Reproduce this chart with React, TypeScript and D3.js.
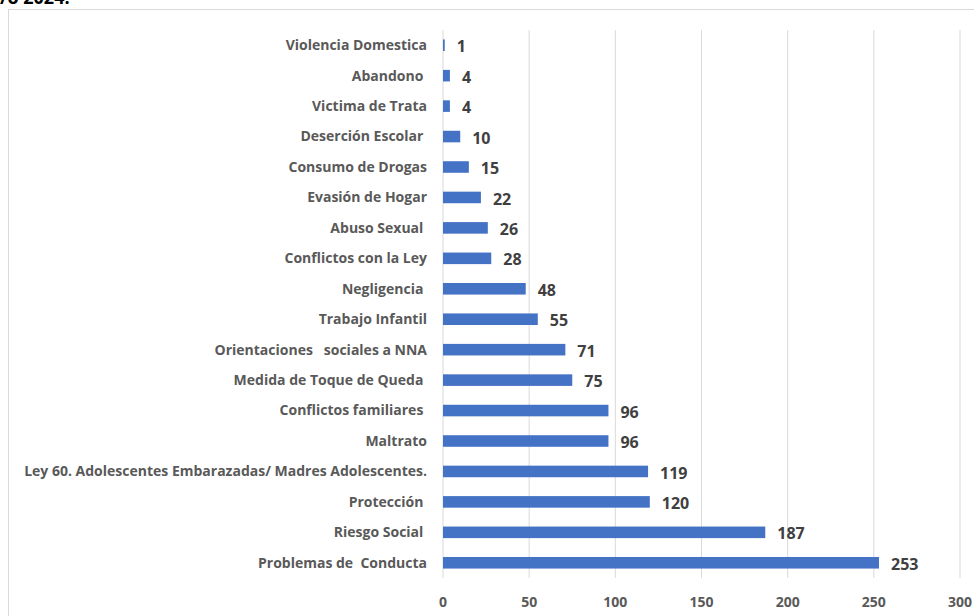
import React from "react";
import * as d3 from "d3";

const categories = [
  "Violencia Domestica",
  "Abandono ",
  "Victima de Trata",
  "Deserción Escolar ",
  "Consumo de Drogas",
  "Evasión de Hogar",
  "Abuso Sexual ",
  "Conflictos con la Ley",
  "Negligencia ",
  "Trabajo Infantil",
  "Orientaciones   sociales a NNA",
  "Medida de Toque de Queda ",
  "Conflictos familiares ",
  "Maltrato",
  "Ley 60. Adolescentes Embarazadas/ Madres Adolescentes.",
  "Protección ",
  "Riesgo Social ",
  "Problemas de  Conducta",
];
const values = [1, 4, 4, 10, 15, 22, 26, 28, 48, 55, 71, 75, 96, 96, 119, 120, 187, 253];
const ticks = [0, 50, 100, 150, 200, 250, 300];

const W = 974;
const H = 616;
const font = "'Open Sans', 'Liberation Sans', sans-serif";

export default function App() {
  const x = d3.scaleLinear().domain([0, 300]).range([443, 960]);
  const y = d3.scaleBand<string>().domain(categories).range([30, 578]).paddingInner(0.62).paddingOuter(0.31);

  return (
    <svg
      width={W}
      height={H}
      style={{ position: "absolute", left: 0, top: 0, background: "#fff" }}
    >
      <text x={0} y={4} fontFamily={font} fontWeight="bold" fontSize={18} fill="#000">
        /o 2024.
      </text>
      <rect x={8.5} y={9.5} width={W} height={H} fill="none" stroke="#d9d9d9" strokeWidth={1} />
      {ticks.map((t) => (
        <g key={t}>
          <line x1={x(t)} x2={x(t)} y1={30} y2={578} stroke="#d9d9d9" strokeWidth={1} />
          <text
            x={x(t)}
            y={607}
            textAnchor="middle"
            fontFamily={font}
            fontWeight="bold"
            fontSize={14}
            fill="#595959"
          >
            {t}
          </text>
        </g>
      ))}
      {categories.map((c, i) => {
        const cy = (y(c) as number) + y.bandwidth() / 2;
        return (
          <g key={c}>
            <text
              x={427}
              y={cy}
              dy="0.35em"
              textAnchor="end"
              fontFamily={font}
              fontWeight="bold"
              fontSize={14}
              fill="#595959"
              style={{ whiteSpace: "pre" }}
            >
              {c}
            </text>
            <rect
              x={x(0)}
              y={y(c) as number}
              width={x(values[i]) - x(0)}
              height={y.bandwidth()}
              fill="#4472c4"
            />
            <text
              x={x(values[i]) + 12}
              y={cy + 1.5}
              dy="0.35em"
              fontFamily={font}
              fontWeight="bold"
              fontSize={16}
              fill="#404040"
            >
              {values[i]}
            </text>
          </g>
        );
      })}
    </svg>
  );
}
